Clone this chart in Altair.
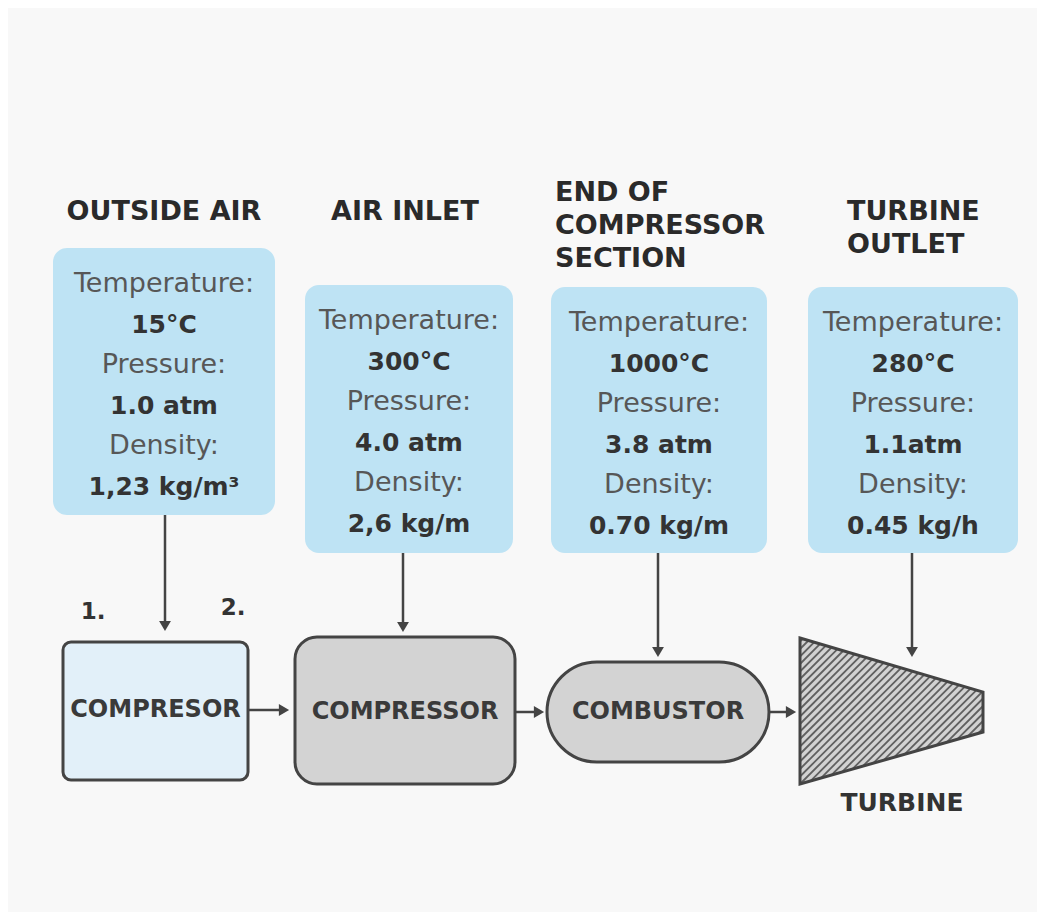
import altair as alt
import pandas as pd

# ---------------- data ----------------
station_titles = [["OUTSIDE AIR"], ["AIR INLET"], ["END OF", "COMPRESSOR", "SECTION"], ["TURBINE", "OUTLET"]]
field_labels = ["Temperature:", "Pressure:", "Density:"]
temperature = ["15°C", "300°C", "1000°C", "280°C"]
pressure = ["1.0 atm", "4.0 atm", "3.8 atm", "1.1atm"]
density = ["1,23 kg/m³", "2,6 kg/m", "0.70 kg/m", "0.45 kg/h"]
components = ["COMPRESOR", "COMPRESSOR", "COMBUSTOR", "TURBINE"]
step_labels = ["1.", "2."]

# ---------------- layout (page pixels) ----------------
W, H = 1029, 904
X0, Y0 = 8, 8
box_x0 = [53, 305, 551, 808]
box_x1 = [275, 513, 767, 1018]
box_y0 = [248, 285, 287, 287]
box_y1 = [515, 553, 553, 553]
title_x = [164, 405, 555, 847]
title_align = ["center", "center", "left", "left"]
title_y = [[212], [212], [193, 226, 259], [212, 245]]
line_offset, line_step = 36, 40.5

comp_x0 = [63, 295, 547]
comp_x1 = [248, 515, 769]
comp_y0 = [642, 637, 662]
comp_y1 = [780, 784, 762]
comp_radius = [8, 22, 50]
comp_fill = ["#e2f0f9", "#d3d3d3", "#d3d3d3"]
comp_label_y = [710, 712, 712]
turb_x = [800, 983]
turb_top = [638, 692]
turb_bot = [784, 732]
turb_label = (902, 803)

down_x = [165, 403, 658, 912]
down_y0 = [515, 553, 553, 553]
down_head = [626, 627, 652, 652]
right_y = [710, 712, 712]
right_x0 = [248, 515, 769]
right_head = [284, 539, 791]
step_pos = [(93, 612), (233, 608)]

INK = "#444444"

xs = alt.Scale(domain=[X0, X0 + W], nice=False, zero=False)
ys = alt.Scale(domain=[Y0, Y0 + H], nice=False, zero=False, reverse=True)


def X(f):
    return alt.X(f, type="quantitative", scale=xs, axis=None)


def Y(f):
    return alt.Y(f, type="quantitative", scale=ys, axis=None)


layers = []

# info boxes
info = pd.DataFrame({"x0": box_x0, "x1": box_x1, "y0": box_y0, "y1": box_y1})
layers.append(
    alt.Chart(info).mark_rect(cornerRadius=14, fill="#bee3f4")
    .encode(x=X("x0"), x2=alt.X2("x1"), y=Y("y0"), y2=alt.Y2("y1"))
)

# titles
trows = []
for i, lines in enumerate(station_titles):
    for ln, yy in zip(lines, title_y[i]):
        trows.append({"x": title_x[i], "y": yy, "t": ln, "al": title_align[i]})
tdf = pd.DataFrame(trows)
for al in ["center", "left"]:
    layers.append(
        alt.Chart(tdf[tdf.al == al]).mark_text(
            align=al, baseline="middle", font="DejaVu Sans", fontWeight="bold",
            fontSize=27, color="#2a2a2a")
        .encode(x=X("x"), y=Y("y"), text="t:N")
    )

# box contents
lab_rows, val_rows = [], []
for i in range(4):
    cx = (box_x0[i] + box_x1[i]) / 2
    vals = [temperature[i], pressure[i], density[i]]
    for k in range(3):
        y_lab = box_y0[i] + line_offset + (2 * k) * line_step
        y_val = box_y0[i] + line_offset + (2 * k + 1) * line_step
        lab_rows.append({"x": cx, "y": y_lab, "t": field_labels[k]})
        val_rows.append({"x": cx, "y": y_val, "t": vals[k]})
layers.append(
    alt.Chart(pd.DataFrame(lab_rows)).mark_text(
        align="center", baseline="middle", font="DejaVu Sans", fontSize=27, color="#575757")
    .encode(x=X("x"), y=Y("y"), text="t:N")
)
layers.append(
    alt.Chart(pd.DataFrame(val_rows)).mark_text(
        align="center", baseline="middle", font="DejaVu Sans", fontWeight="bold",
        fontSize=25, color="#333333")
    .encode(x=X("x"), y=Y("y"), text="t:N")
)

# arrows: shafts
shafts = []
for i in range(4):
    shafts.append({"x": down_x[i], "x2": down_x[i], "y": down_y0[i], "y2": down_head[i]})
for i in range(3):
    shafts.append({"x": right_x0[i], "x2": right_head[i], "y": right_y[i], "y2": right_y[i]})
layers.append(
    alt.Chart(pd.DataFrame(shafts)).mark_rule(color=INK, strokeWidth=2.5)
    .encode(x=X("x"), x2=alt.X2("x2"), y=Y("y"), y2=alt.Y2("y2"))
)
heads_d = pd.DataFrame({"x": down_x, "y": down_head})
layers.append(
    alt.Chart(heads_d).mark_point(shape="triangle-down", filled=True, size=140, color=INK, opacity=1)
    .encode(x=X("x"), y=Y("y"))
)
heads_r = pd.DataFrame({"x": right_head, "y": right_y})
layers.append(
    alt.Chart(heads_r).mark_point(shape="triangle-right", filled=True, size=140, color=INK, opacity=1)
    .encode(x=X("x"), y=Y("y"))
)

# components
for i in range(3):
    d = pd.DataFrame({"x0": [comp_x0[i]], "x1": [comp_x1[i]], "y0": [comp_y0[i]], "y1": [comp_y1[i]]})
    layers.append(
        alt.Chart(d).mark_rect(cornerRadius=comp_radius[i], fill=comp_fill[i], stroke=INK, strokeWidth=3)
        .encode(x=X("x0"), x2=alt.X2("x1"), y=Y("y0"), y2=alt.Y2("y1"))
    )
comp_text = pd.DataFrame({
    "x": [(comp_x0[i] + comp_x1[i]) / 2 for i in range(3)],
    "y": comp_label_y,
    "t": components[:3],
})
layers.append(
    alt.Chart(comp_text).mark_text(
        align="center", baseline="middle", font="DejaVu Sans", fontWeight="bold",
        fontSize=24, color="#3a3a3a")
    .encode(x=X("x"), y=Y("y"), text="t:N")
)

# turbine
turb = pd.DataFrame({"x": turb_x, "top": turb_top, "bot": turb_bot})
layers.append(
    alt.Chart(turb).mark_area(fill="#d2d2d2", opacity=1)
    .encode(x=X("x"), y=Y("top"), y2=alt.Y2("bot"))
)
# hatch stripes (geometry clipped to trapezoid)
k1 = (turb_top[1] - turb_top[0]) / (turb_x[1] - turb_x[0])
k2 = (turb_bot[0] - turb_bot[1]) / (turb_x[1] - turb_x[0])
stripes = []
c = turb_x[0] + turb_top[0] - 4
cmax = turb_x[1] + turb_bot[1] + 4
while c < cmax:
    xlo = (c - turb_bot[0] - turb_x[0] * k2) / (1 - k2)
    xhi = (c - turb_top[0] + turb_x[0] * k1) / (1 + k1)
    a = max(turb_x[0], xlo)
    b = min(turb_x[1], xhi)
    if b > a:
        stripes.append({"x": a, "y": c - a, "x2": b, "y2": c - b})
    c += 7.5
layers.append(
    alt.Chart(pd.DataFrame(stripes)).mark_rule(color="#606060", strokeWidth=1.8)
    .encode(x=X("x"), x2=alt.X2("x2"), y=Y("y"), y2=alt.Y2("y2"))
)
layers.append(
    alt.Chart(turb).mark_area(fillOpacity=0, stroke=INK, strokeWidth=3, strokeJoin="miter")
    .encode(x=X("x"), y=Y("top"), y2=alt.Y2("bot"))
)
layers.append(
    alt.Chart(pd.DataFrame({"x": [turb_label[0]], "y": [turb_label[1]], "t": [components[3]]}))
    .mark_text(align="center", baseline="middle", font="DejaVu Sans", fontWeight="bold",
               fontSize=25, color="#333333")
    .encode(x=X("x"), y=Y("y"), text="t:N")
)

# step labels
steps = pd.DataFrame({"x": [p[0] for p in step_pos], "y": [p[1] for p in step_pos], "t": step_labels})
layers.append(
    alt.Chart(steps).mark_text(align="center", baseline="middle", font="DejaVu Sans",
                               fontWeight="bold", fontSize=23, color="#333333")
    .encode(x=X("x"), y=Y("y"), text="t:N")
)

chart = alt.layer(*layers).properties(
    width=W, height=H, padding=0,
    autosize=alt.AutoSizeParams(type="fit", contains="padding"),
    background="#f8f8f8",
).configure_view(stroke=None)

chart.save("out.html", embed_options={"renderer": "svg", "actions": False})
